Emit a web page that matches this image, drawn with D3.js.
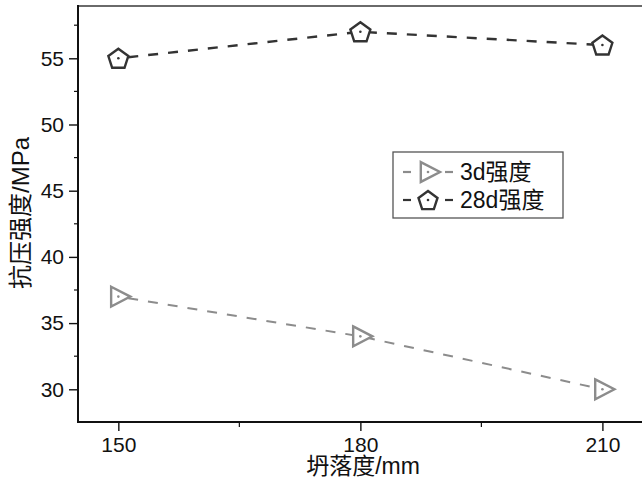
<!DOCTYPE html>
<html><head><meta charset="utf-8">
<script src="https://cdn.jsdelivr.net/npm/d3@7"></script>
<style>body{margin:0;background:#fff}svg{display:block}</style>
</head><body>
<script>
const categories = [150, 180, 210];
const series3d = [37, 34, 30];
const series28d = [55, 57, 56];
const seriesNames = ["3d强度", "28d强度"];
const yTicks = [30, 35, 40, 45, 50, 55];
const xTicks = [150, 180, 210];

const W = 642, H = 480;
const svg = d3.select("body").append("svg").attr("width", W).attr("height", H);
const mLeft = 78, mRight = 650, mTop = 6, mBottom = 422;
const x = d3.scaleLinear().domain([145, 215.9]).range([mLeft, mRight]);
const y = d3.scaleLinear().domain([27.53, 58.95]).range([mBottom, mTop]);
const font = "'Liberation Sans', Arial, sans-serif";
const cjk = "'Noto Sans CJK SC', sans-serif";

// frame top
svg.append("line").attr("x1", mLeft).attr("x2", W).attr("y1", mTop).attr("y2", mTop)
  .attr("stroke", "#6a6a6a").attr("stroke-width", 2);

// y axis
const yAx = svg.append("g").attr("transform", `translate(${mLeft},0)`)
  .call(d3.axisLeft(y).tickValues(yTicks).tickSize(9).tickPadding(5).tickSizeOuter(0));
yAx.select(".domain").remove();
svg.append("line").attr("x1", mLeft).attr("x2", mLeft).attr("y1", mTop - 1).attr("y2", mBottom + 1)
  .attr("stroke", "#111").attr("stroke-width", 2);
yAx.selectAll("text").attr("font-family", font).attr("font-size", 21).attr("fill", "#111");
yAx.selectAll("line").attr("stroke", "#111").attr("stroke-width", 1.4);
const yMinor = [27.5, 32.5, 37.5, 42.5, 47.5, 52.5, 57.5].filter(v => v >= y.domain()[0]);
svg.append("g").selectAll("line").data(yMinor).join("line")
  .attr("x1", mLeft - 4).attr("x2", mLeft).attr("y1", d => y(d)).attr("y2", d => y(d))
  .attr("stroke", "#111").attr("stroke-width", 1.2);

// x axis
const xAx = svg.append("g").attr("transform", `translate(0,${mBottom})`)
  .call(d3.axisBottom(x).tickValues(xTicks).tickSize(9).tickPadding(6).tickSizeOuter(0));
xAx.select(".domain").remove();
svg.append("line").attr("x1", mLeft - 1).attr("x2", W).attr("y1", mBottom).attr("y2", mBottom)
  .attr("stroke", "#111").attr("stroke-width", 2.2);
xAx.selectAll("text").attr("font-family", font).attr("font-size", 21).attr("fill", "#111");
xAx.selectAll("line").attr("stroke", "#111").attr("stroke-width", 1.4);
const xMinor = [165, 195];
svg.append("g").selectAll("line").data(xMinor).join("line")
  .attr("x1", d => x(d)).attr("x2", d => x(d)).attr("y1", mBottom).attr("y2", mBottom + 5)
  .attr("stroke", "#111").attr("stroke-width", 1.2);

// axis titles
const xt = svg.append("text").attr("x", 363).attr("y", 474).attr("text-anchor", "middle")
  .attr("font-size", 23).attr("fill", "#111");
xt.append("tspan").attr("font-family", cjk).text("坍落度");
xt.append("tspan").attr("font-family", font).text("/mm");
const yt = svg.append("text").attr("transform", "translate(29,213) rotate(-90)").attr("text-anchor", "middle")
  .attr("font-size", 24).attr("fill", "#111");
yt.append("tspan").attr("font-family", cjk).text("抗压强度");
yt.append("tspan").attr("font-family", font).text("/MPa");

// markers
function triPath(s) { return `M${-s*0.45},${-s*0.62}L${s*0.75},0L${-s*0.45},${s*0.62}Z`; }
function pentPath(r) {
  const pts = d3.range(5).map(i => { const a = -Math.PI/2 + i*2*Math.PI/5; return [r*Math.cos(a), r*Math.sin(a) + 1]; });
  return "M" + pts.map(p => p.join(",")).join("L") + "Z";
}
function drawSeries(vals, color, shape, sw) {
  const data = categories.map((c, i) => [c, vals[i]]);
  svg.append("path").datum(data)
    .attr("d", d3.line().x(d => x(d[0])).y(d => y(d[1])))
    .attr("fill", "none").attr("stroke", color).attr("stroke-width", sw)
    .attr("stroke-dasharray", "10,10").attr("stroke-dashoffset", -10);
  const g = svg.append("g").selectAll("g").data(data).join("g")
    .attr("transform", d => `translate(${x(d[0])},${y(d[1])})`);
  g.append("path").attr("d", shape === "tri" ? triPath(16) : pentPath(10.5))
    .attr("fill", "#fff").attr("stroke", color).attr("stroke-width", 2.4).attr("stroke-linejoin", "miter");
  g.append("circle").attr("r", 1.3).attr("fill", color);
}
drawSeries(series3d, "#8c8c8c", "tri", 2);
drawSeries(series28d, "#333", "pent", 2.4);

// legend
const lg = svg.append("g");
lg.append("rect").attr("x", 393).attr("y", 152).attr("width", 170).attr("height", 66)
  .attr("fill", "#fff").attr("stroke", "#555").attr("stroke-width", 1.3);
const legendItems = [
  {name: seriesNames[0], color: "#8c8c8c", shape: "tri", yy: 172},
  {name: seriesNames[1], color: "#333", shape: "pent", yy: 200}
];
legendItems.forEach(it => {
  [[403, 411], [445, 453]].forEach(seg => {
    lg.append("line").attr("x1", seg[0]).attr("x2", seg[1]).attr("y1", it.yy).attr("y2", it.yy)
      .attr("stroke", it.color).attr("stroke-width", 2.2);
  });
  const m = lg.append("g").attr("transform", `translate(428,${it.yy})`);
  m.append("path").attr("d", it.shape === "tri" ? triPath(16) : pentPath(10))
    .attr("fill", "#fff").attr("stroke", it.color).attr("stroke-width", 2.4);
  m.append("circle").attr("r", 1.3).attr("fill", it.color);
  const t = lg.append("text").attr("x", 460).attr("y", it.yy + 8).attr("font-size", 23).attr("fill", "#111");
  const m2 = it.name.match(/^([0-9a-z]+)(.*)$/);
  t.append("tspan").attr("font-family", font).text(m2[1]);
  t.append("tspan").attr("font-family", cjk).text(m2[2]);
});
</script>
</body></html>
